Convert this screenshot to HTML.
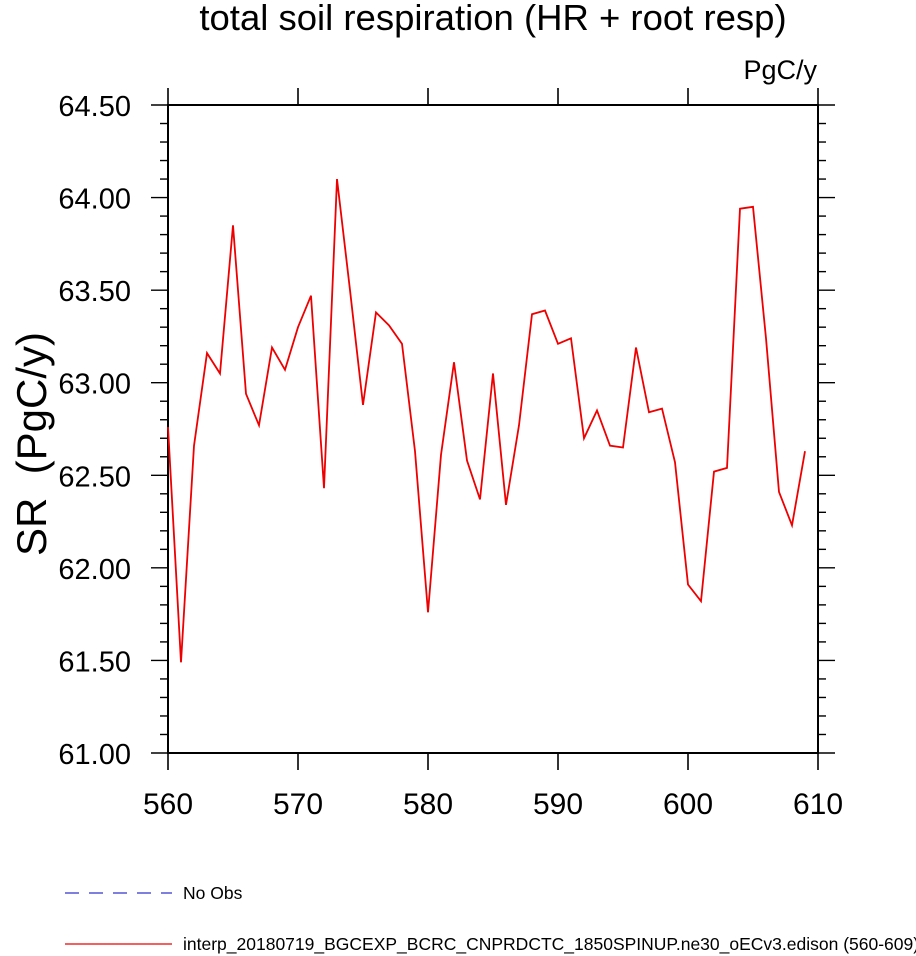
<!DOCTYPE html>
<html><head><meta charset="utf-8"><style>
body{margin:0;background:#fff;}
svg{display:block;font-family:"Liberation Sans",Arial,sans-serif;}
</style></head><body>
<svg id="chart" width="916" height="956" viewBox="0 0 916 956" xmlns="http://www.w3.org/2000/svg">
<text x="493" y="30" font-size="36.5" text-anchor="middle">total soil respiration (HR + root resp)</text>
<text x="817" y="79" font-size="27" text-anchor="end">PgC/y</text>
<text transform="translate(46,444) rotate(-90)" font-size="42" text-anchor="middle">SR&#160;&#160;(PgC/y)</text>
<g id="axes"></g>
<g id="series"></g>
<g>
<line x1="65" y1="893" x2="172" y2="893" stroke="#3333cc" stroke-width="1.2" stroke-dasharray="14,10"/>
<text x="183" y="899" font-size="17.5">No Obs</text>
<line x1="65" y1="944" x2="172" y2="944" stroke="#ee0000" stroke-width="1.2"/>
<text x="183" y="950" font-size="17.5">interp_20180719_BGCEXP_BCRC_CNPRDCTC_1850SPINUP.ne30_oECv3.edison (560-609)</text>
</g>
</svg>
<script>
const years = [];
for (let i = 560; i <= 609; i++) years.push(i);
const srValues = [62.76,61.49,62.66,63.16,63.05,63.85,62.94,62.77,63.19,63.07,63.30,63.47,62.43,64.10,63.50,62.88,63.38,63.31,63.21,62.63,61.76,62.61,63.11,62.58,62.37,63.05,62.34,62.77,63.37,63.39,63.21,63.24,62.70,62.85,62.66,62.65,63.19,62.84,62.86,62.57,61.91,61.82,62.52,62.54,63.94,63.95,63.24,62.41,62.23,62.63];
const xTicks = [560,570,580,590,600,610];
const yTicks = ["61.00","61.50","62.00","62.50","63.00","63.50","64.00","64.50"];

const L=168,R=818,T=105,B=753,X0=560,X1=610,Y0=61,Y1=64.5;
const xs=v=>L+(v-X0)/(X1-X0)*(R-L);
const ys=v=>B-(v-Y0)/(Y1-Y0)*(B-T);
const NS="http://www.w3.org/2000/svg";
const axes=document.getElementById('axes');
function mk(tag,attrs,parent){const e=document.createElementNS(NS,tag);for(const k in attrs)e.setAttribute(k,attrs[k]);parent.appendChild(e);return e;}
const frame=mk('rect',{x:L,y:T,width:R-L,height:B-T,fill:'none',stroke:'#000','stroke-width':2},axes);


xTicks.forEach(v=>{
  const x=xs(v);
  const t1=mk('line',{x1:x,y1:B,x2:x,y2:B+17,stroke:'#000','stroke-width':1.6},axes);
  
  
  const t2=mk('line',{x1:x,y1:T,x2:x,y2:T-17,stroke:'#000','stroke-width':1.6},axes);
  
  
  const t=mk('text',{x:x,y:B+61,'font-size':30,'text-anchor':'middle'},axes);
  t.textContent=v;
  
  
});
for(let k=0;k<=35;k++){
  const v=Y0+k*0.1,major=(k%5===0),len=major?17:8,y=ys(v);
  const t1=mk('line',{x1:L,y1:y,x2:L-len,y2:y,stroke:'#000','stroke-width':1.4},axes);
  
  
  const t2=mk('line',{x1:R,y1:y,x2:R+len,y2:y,stroke:'#000','stroke-width':1.4},axes);
  
  
}
yTicks.forEach(s=>{
  const t=mk('text',{x:131,y:ys(parseFloat(s))+11,'font-size':29,'text-anchor':'end'},axes);
  t.textContent=s;
  
  
});
const pts=years.map((yr,i)=>xs(yr).toFixed(1)+','+ys(srValues[i]).toFixed(1)).join(' ');
const line=mk('polyline',{points:pts,fill:'none',stroke:'#ee0000','stroke-width':1.8,'stroke-linejoin':'miter'},document.getElementById('series'));


</script>
</body></html>
